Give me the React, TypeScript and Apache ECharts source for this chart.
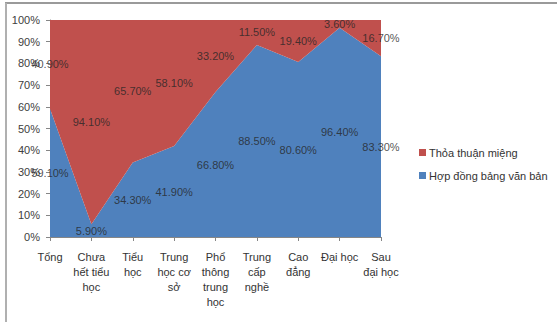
import React, { useEffect, useRef } from "react";
import * as echarts from "echarts";

const categories = [
  "Tổng",
  "Chưa\nhết tiểu\nhọc",
  "Tiểu\nhọc",
  "Trung\nhọc cơ\nsở",
  "Phổ\nthông\ntrung\nhọc",
  "Trung\ncấp\nnghề",
  "Cao\nđẳng",
  "Đại học",
  "Sau\nđại học",
];
const writtenContract = [59.1, 5.9, 34.3, 41.9, 66.8, 88.5, 80.6, 96.4, 83.3];
const verbalAgreement = [40.9, 94.1, 65.7, 58.1, 33.2, 11.5, 19.4, 3.6, 16.7];
const yTicks = [0, 10, 20, 30, 40, 50, 60, 70, 80, 90, 100];

const NAME_RED = "Thỏa thuận miệng";
const NAME_BLUE = "Hợp đồng bảng văn bản";
const RED = "#C0504D";
const BLUE = "#4F81BD";
const FONT = "Liberation Sans, Arial, sans-serif";

export default function App() {
  const ref = useRef<HTMLDivElement>(null);
  useEffect(() => {
    document.body.style.margin = "0";
    const chart = echarts.init(ref.current!, null, { renderer: "svg" });
    const blueMid = writtenContract.map((v) => v / 2);
    const redMid = verbalAgreement.map((v, i) => writtenContract[i] + v / 2);
    const labelCfg = (vals: number[]) => ({
      show: true,
      position: "inside" as const,
      formatter: (p: any) => vals[p.dataIndex].toFixed(2) + "%",
      color: "#262626",
      fontSize: 11,
      fontFamily: FONT,
    });
    chart.setOption({
      animation: false,
      grid: { left: 50, right: 176, top: 20, bottom: 85 },
      legend: {
        orient: "vertical",
        left: 414,
        top: 142,
        itemWidth: 7,
        itemHeight: 7,
        itemGap: 12,
        icon: "rect",
        data: [NAME_RED, NAME_BLUE],
        textStyle: { fontSize: 11, color: "#333333", fontFamily: FONT, padding: [0, 0, 0, -2] },
      },
      xAxis: {
        type: "category",
        data: categories,
        boundaryGap: false,
        axisLine: { show: true, lineStyle: { color: "#868686" } },
        axisTick: { show: true, length: 4, lineStyle: { color: "#868686" } },
        axisLabel: {
          interval: 0,
          margin: 12,
          fontSize: 11,
          lineHeight: 15,
          color: "#333333",
          fontFamily: FONT,
          align: "center",
        },
        splitLine: { show: false },
      },
      yAxis: {
        type: "value",
        min: yTicks[0],
        max: yTicks[yTicks.length - 1],
        interval: 10,
        axisLine: { show: true, lineStyle: { color: "#868686" } },
        axisTick: { show: true, length: 4, lineStyle: { color: "#868686" } },
        axisLabel: {
          formatter: "{value}%",
          fontSize: 11,
          color: "#404040",
          fontFamily: FONT,
          margin: 10,
        },
        splitLine: { show: false },
      },
      series: [
        {
          name: NAME_BLUE,
          type: "line",
          stack: "total",
          data: writtenContract,
          symbol: "none",
          lineStyle: { width: 0 },
          areaStyle: { color: BLUE, opacity: 1 },
          itemStyle: { color: BLUE },
          z: 2,
        },
        {
          name: NAME_RED,
          type: "line",
          stack: "total",
          data: verbalAgreement,
          symbol: "none",
          lineStyle: { width: 0 },
          areaStyle: { color: RED, opacity: 1 },
          itemStyle: { color: RED },
          z: 2,
        },
        {
          name: "blueLabels",
          type: "scatter",
          data: blueMid,
          symbolSize: 0,
          label: labelCfg(writtenContract),
          silent: true,
          z: 5,
        },
        {
          name: "redLabels",
          type: "scatter",
          data: redMid,
          symbolSize: 0,
          label: labelCfg(verbalAgreement),
          silent: true,
          z: 5,
        },
      ],
      graphic: [
        { type: "line", shape: { x1: 5, y1: 3, x2: 557, y2: 3 }, style: { stroke: "#9a9a9a", lineWidth: 2 } },
        { type: "line", shape: { x1: 6, y1: 3, x2: 6, y2: 322 }, style: { stroke: "#b0b0b0", lineWidth: 2 } },
      ],
    });
    return () => chart.dispose();
  }, []);
  return (
    <div
      ref={ref}
      style={{ position: "absolute", left: 0, top: 0, width: 557, height: 322, background: "#fff" }}
    />
  );
}
